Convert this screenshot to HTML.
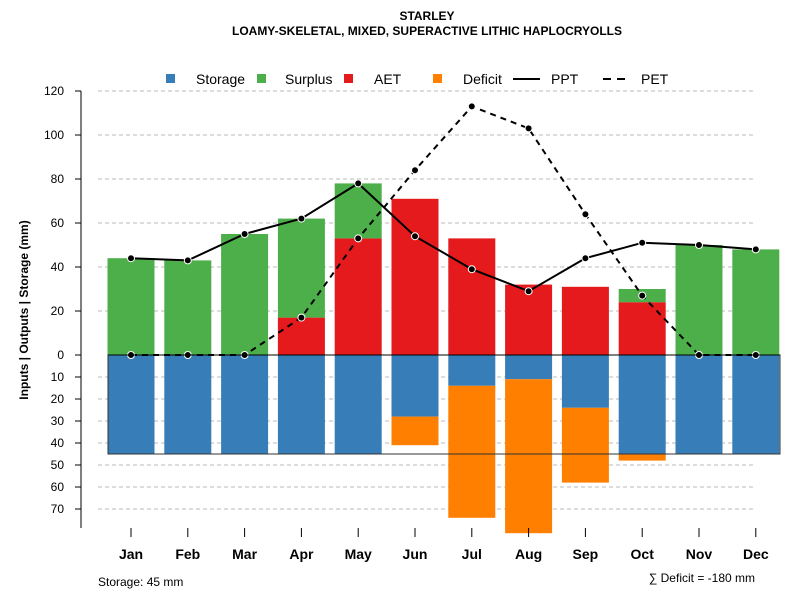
<!DOCTYPE html>
<html><head><meta charset="utf-8"><style>
body{margin:0;background:#fff}
svg{font-family:"Liberation Sans",sans-serif}
</style></head><body>
<svg id="c" width="800" height="600" xmlns="http://www.w3.org/2000/svg">
<text x="427" y="20" font-size="12" font-weight="bold" text-anchor="middle">STARLEY</text>
<text x="427" y="35" font-size="12" font-weight="bold" text-anchor="middle">LOAMY-SKELETAL, MIXED, SUPERACTIVE LITHIC HAPLOCRYOLLS</text>
<text transform="translate(28,310) rotate(-90)" font-size="12" font-weight="bold" text-anchor="middle">Inputs | Outputs | Storage    (mm)</text>
<text x="98" y="586" font-size="12">Storage: 45 mm</text>
<text x="755" y="582" font-size="12" text-anchor="end">∑ Deficit = -180 mm</text>
<g id="grid"></g><g id="bars"></g><g id="lines"></g><g id="axes"></g><g id="legend"></g>
</svg>
<script>
const months=["Jan","Feb","Mar","Apr","May","Jun","Jul","Aug","Sep","Oct","Nov","Dec"];
const storage=[45,45,45,45,45,28,14,11,24,45,45,45];
const deficit=[0,0,0,0,0,13,60,70,34,3,0,0];
const aet=[0,0,0,17,53,71,53,32,31,24,0,0];
const surplus=[44,43,55,45,25,0,0,0,0,6,50,48];
const ppt=[44,43,55,62,78,54,39,29,44,51,50,48];
const pet=[0,0,0,17,53,84,113,103,64,27,0,0];
const upTicks=[0,20,40,60,80,100,120];
const downTicks=[10,20,30,40,50,60,70];
const storageCap=45;
const NS="http://www.w3.org/2000/svg";
const y=v=>355-v*2.2;
const x=i=>131+i*56.8;
const bw=47;
function mk(p,t,a){const e=document.createElementNS(NS,t);for(const k in a)e.setAttribute(k,a[k]);document.getElementById(p).appendChild(e);return e;}
// grid
upTicks.concat(downTicks.map(v=>-v)).forEach(v=>{if(v===0)return;
 const g=mk('grid','line',{x1:98,x2:756,y1:y(v),y2:y(v),stroke:'#bbb','stroke-dasharray':'4,3'});
 
 });
// bars
months.forEach((m,i)=>{
 const L=x(i)-bw/2;
 const s=mk('bars','rect',{x:L,y:y(0),width:bw,height:storage[i]*2.2,fill:'#377eb8'});
 
 
 if(deficit[i]>0){const d=mk('bars','rect',{x:L,y:y(-storage[i]),width:bw,height:deficit[i]*2.2,fill:'#ff7f00'});
  
  }
 if(aet[i]>0){const a=mk('bars','rect',{x:L,y:y(aet[i]),width:bw,height:aet[i]*2.2,fill:'#e41a1c'});
  
  }
 if(surplus[i]>0){const sp=mk('bars','rect',{x:L,y:y(aet[i]+surplus[i]),width:bw,height:surplus[i]*2.2,fill:'#4daf4a'});
  
  }
});
const sb=mk('bars','rect',{x:108,y:y(0),width:672,height:storageCap*2.2,fill:'none',stroke:'#333','stroke-width':1});


// lines
function series(arr,dash,name){
 const pl=mk('lines','polyline',{points:arr.map((v,i)=>x(i)+','+y(v)).join(' '),fill:'none',stroke:'#000','stroke-width':2,'stroke-dasharray':dash});
 
 
 arr.forEach((v,i)=>{const c=mk('lines','circle',{cx:x(i),cy:y(v),r:3.5,fill:'#000',stroke:'#fff','stroke-width':1});
  
  });
}
series(pet,'6,5','pet');
series(ppt,'none','ppt');
// axes
const ax=mk('axes','line',{x1:81,x2:81,y1:91,y2:528,stroke:'#555','stroke-width':1.5});


upTicks.forEach(v=>{mk('axes','line',{x1:75,x2:81,y1:y(v),y2:y(v),stroke:'#000'});
 const t=mk('axes','text',{x:64,y:y(v)+4,'font-size':12,'text-anchor':'end'});t.textContent=v;
 
 });
downTicks.forEach(v=>{mk('axes','line',{x1:75,x2:81,y1:y(-v),y2:y(-v),stroke:'#000'});
 const t=mk('axes','text',{x:64,y:y(-v)+4,'font-size':12,'text-anchor':'end'});t.textContent=v;
 
 });
const zl=mk('axes','line',{x1:108,x2:780,y1:y(0),y2:y(0),stroke:'#000'});


months.forEach((m,i)=>{mk('axes','line',{x1:x(i),x2:x(i),y1:528,y2:537,stroke:'#000'});
 const t=mk('axes','text',{x:x(i),y:559,'font-size':14,'font-weight':'bold','text-anchor':'middle'});t.textContent=m;
 
 });
// legend
[['Storage','#377eb8',166,196],['Surplus','#4daf4a',257,285],['AET','#e41a1c',344,374],['Deficit','#ff7f00',433,463]].forEach(l=>{
 mk('legend','rect',{x:l[2],y:74,width:9,height:9,fill:l[1]});
 const t=mk('legend','text',{x:l[3],y:84,'font-size':14});t.textContent=l[0];
 
 });
mk('legend','line',{x1:513,x2:540,y1:79,y2:79,stroke:'#000','stroke-width':2});
let t1=mk('legend','text',{x:551,y:84,'font-size':14});t1.textContent='PPT';


mk('legend','line',{x1:603,x2:627,y1:79,y2:79,stroke:'#000','stroke-width':2,'stroke-dasharray':'8,6'});
let t2=mk('legend','text',{x:641,y:84,'font-size':14});t2.textContent='PET';


</script>
</body></html>
